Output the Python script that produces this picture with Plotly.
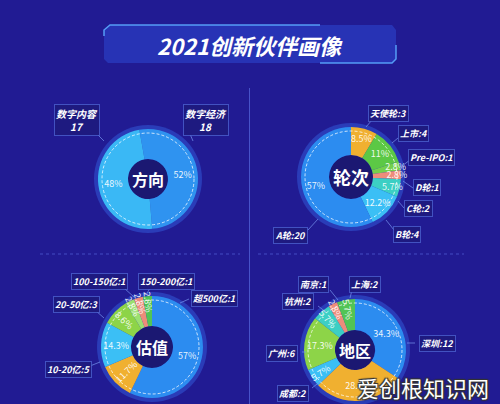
import plotly.graph_objects as go

W, H = 500, 404
BG = "#211b93"
FONT = "Noto Sans CJK SC"

# ---------------- data ----------------
dir_labels = ["数字经济", "数字内容"]
dir_values = [18, 17]
dir_pct = ["52%", "48%"]

round_labels = ["天使轮", "上市", "Pre-IPO", "D轮", "C轮", "B轮", "A轮"]
round_values = [3, 4, 1, 1, 2, 4, 20]
round_pct = ["8.5%", "11%", "2.8%", "2.8%", "5.7%", "12.2%", "57%"]

val_labels = ["50-100亿", "5-10亿", "10-20亿", "20-50亿", "100-150亿", "150-200亿", "超500亿"]
val_values = [20, 4, 5, 3, 1, 1, 1]
val_pct = ["57%", "11.7%", "14.3%", "8.6%", "2.8%", "2.8%", "2.8%"]

reg_labels = ["深圳", "北京", "成都", "广州", "杭州", "南京", "上海"]
reg_values = [12, 10, 2, 6, 2, 1, 2]
reg_pct = ["34.3%", "28.5%", "5.7%", "17.3%", "5.7%", "2.8%", "5.7%"]

BLUE = "#2c8cf0"
LBLUE = "#3bbff5"
ORANGE = "#f0b030"
GREEN = "#5cc845"
LGREEN = "#8dd448"
SALMON = "#ee8c7a"
TEAL = "#3ccfc4"

dir_colors = ["#2f93f0", "#3ab8f5"]
round_colors = [ORANGE, GREEN, "#74d04c", SALMON, TEAL, LBLUE, BLUE]
val_colors = [BLUE, ORANGE, LBLUE, LGREEN, "#9be070", SALMON, "#52c455"]
reg_colors = [BLUE, ORANGE, LBLUE, LGREEN, TEAL, SALMON, "#52c455"]

# donut geometry (pixels): center x, center y, radius, hole radius
donuts = [
    dict(name="方向", cx=148, cy=179, r=50, hr=20, labels=dir_labels, values=dir_values,
         pct=dir_pct, colors=dir_colors, rot=-10, fs=16, orient="horizontal"),
    dict(name="轮次", cx=351, cy=177, r=50, hr=22, labels=round_labels, values=round_values,
         pct=round_pct, colors=round_colors, rot=0, fs=18, orient="horizontal"),
    dict(name="估值", cx=152, cy=347, r=51, hr=21, labels=val_labels, values=val_values,
         pct=val_pct, colors=val_colors, rot=0, fs=16, orient="auto"),
    dict(name="地区", cx=355, cy=350, r=51, hr=20, labels=reg_labels, values=reg_values,
         pct=reg_pct, colors=reg_colors, rot=0, fs=16, orient="auto"),
]

fig = go.Figure()
shapes = []
annotations = []

# invisible scatter to keep axes in pixel coords
fig.add_trace(go.Scatter(x=[0, W], y=[0, H], mode="markers", marker=dict(opacity=0),
                         hoverinfo="skip", showlegend=False))

for d in donuts:
    cx, cy, r, hr = d["cx"], d["cy"], d["r"], d["hr"]
    shapes.append(dict(type="circle", layer="below", x0=cx - r - 4, x1=cx + r + 4,
                       y0=cy - r - 4, y1=cy + r + 4, fillcolor="#2a3cb8",
                       line=dict(width=0)))
    shapes.append(dict(type="circle", layer="below", x0=cx - hr, x1=cx + hr,
                       y0=cy - hr, y1=cy + hr, fillcolor="#1b1872", line=dict(width=0)))
    rr = r - 4
    shapes.append(dict(type="circle", layer="above", x0=cx - rr, x1=cx + rr,
                       y0=cy - rr, y1=cy + rr, line=dict(color="rgba(255,255,255,0.75)",
                                                         width=1, dash="3px,2px")))
    fig.add_trace(go.Pie(
        labels=d["labels"], values=d["values"], text=d["pct"], textinfo="text",
        textposition="inside", insidetextorientation=d["orient"],
        textfont=dict(family=FONT, size=9, color="rgba(255,255,255,0.92)"),
        marker=dict(colors=d["colors"], line=dict(width=0)),
        hole=hr / r, sort=False, direction="clockwise", rotation=d["rot"],
        domain=dict(x=[(cx - r) / W, (cx + r) / W], y=[(H - cy - r) / H, (H - cy + r) / H]),
        showlegend=False, hoverinfo="label+value",
    ))
    annotations.append(dict(x=cx, y=cy, text="<b>%s</b>" % d["name"], showarrow=False,
                            font=dict(family=FONT, size=d["fs"], color="white")))

# ---------------- callout boxes ----------------
def box(x, y, text, size=9):
    annotations.append(dict(x=x, y=y, text="<b><i>%s</i></b>" % text, showarrow=False,
                            font=dict(family=FONT, size=size, color="white"),
                            bgcolor="#1e1a80", bordercolor="rgba(90,120,230,0.6)",
                            borderwidth=1, borderpad=1))

def line(x0, y0, x1, y1):
    shapes.append(dict(type="line", layer="above", x0=x0, y0=y0, x1=x1, y1=y1,
                       line=dict(color="rgba(120,150,240,0.7)", width=1)))

# 方向
box(77, 120, "%s<br>%d" % (dir_labels[1], dir_values[1]), size=10)
box(206, 120, "%s<br>%d" % (dir_labels[0], dir_values[0]), size=10)
line(97, 134, 104, 141)
line(190, 134, 193, 141)

# 轮次
round_pos = [(388, 113), (413, 133), (431, 157), (427, 187), (418, 208), (407, 234), (290, 235)]
for (x, y), lb, v in zip(round_pos, round_labels, round_values):
    box(x, y, "%s:%d" % (lb, v))
line(372, 120, 366, 127)
line(398, 138, 392, 143)
line(410, 160, 402, 166)
line(413, 188, 403, 181)
line(404, 208, 398, 201)
line(394, 230, 386, 220)
line(308, 230, 318, 219)

# 估值
val_pos = [(216, 408), (90, 406), (68, 369), (76, 304), (99, 281), (166, 281), (214, 298)]
for (x, y), lb, v in zip(val_pos, val_labels, val_values):
    box(x, y, "%s:%d" % (lb, v))
line(124, 288, 134, 297)
line(150, 288, 146, 295)
line(189, 299, 180, 303)
line(95, 310, 104, 318)
line(90, 366, 100, 362)

# 地区
reg_pos = [(437, 343), (420, 412), (293, 393), (282, 353), (298, 301), (313, 284), (365, 284)]
for (x, y), lb, v in zip(reg_pos, reg_labels, reg_values):
    box(x, y, "%s:%d" % (lb, v))
line(318, 306, 326, 312)
line(330, 290, 338, 300)
line(352, 290, 350, 298)
line(302, 352, 306, 352)
line(312, 388, 322, 380)
line(415, 343, 407, 343)

# ---------------- title banner & dividers ----------------
shapes.append(dict(type="path", layer="below",
                   path="M 110 25 L 392 25 L 396 30 L 396 59 L 392 63 L 108 63 L 104 59 L 104 30 Z",
                   fillcolor="rgba(45,75,215,0.5)", line=dict(width=0)))
shapes.append(dict(type="path", layer="below",
                   path="M 104 36 L 104 30 L 110 25 L 320 25",
                   line=dict(color="rgba(90,170,255,0.9)", width=1.5)))
shapes.append(dict(type="path", layer="below",
                   path="M 320 63 L 392 63 L 396 59 L 396 45",
                   line=dict(color="rgba(90,170,255,0.9)", width=1.5)))
annotations.append(dict(x=250, y=45, text="<b><i>2021创新伙伴画像</i></b>", showarrow=False,
                        font=dict(family=FONT, size=22, color="white")))

shapes.append(dict(type="line", layer="below", x0=249.5, x1=249.5, y0=88, y1=404,
                   line=dict(color="rgba(110,140,255,0.5)", width=1)))
shapes.append(dict(type="line", layer="below", x0=40, x1=240, y0=254, y1=254,
                   line=dict(color="rgba(110,140,255,0.45)", width=1, dash="dot")))
shapes.append(dict(type="line", layer="below", x0=258, x1=464, y0=254, y1=254,
                   line=dict(color="rgba(110,140,255,0.45)", width=1, dash="dot")))

# watermark
annotations.append(dict(x=423, y=387, text="爱创根知识网", showarrow=False,
                        font=dict(family=FONT, size=22, color="white",
                                  shadow="1px 1px 1px #333, -1px -1px 1px #333, 1px -1px 1px #333, -1px 1px 1px #333")))

for a in annotations:
    a.setdefault("xref", "x")
    a.setdefault("yref", "y")

fig.update_layout(
    width=W, height=H, margin=dict(l=0, r=0, t=0, b=0),
    paper_bgcolor=BG, plot_bgcolor=BG,
    xaxis=dict(range=[0, W], visible=False, fixedrange=True),
    yaxis=dict(range=[H, 0], visible=False, fixedrange=True),
    uniformtext=dict(minsize=9, mode="show"),
    shapes=shapes, annotations=annotations, showlegend=False,
)

fig.write_html("out.html", config=dict(displayModeBar=False),
               post_script="document.body.style.margin='0';document.body.style.overflow='hidden';document.body.style.background='%s';" % BG)
